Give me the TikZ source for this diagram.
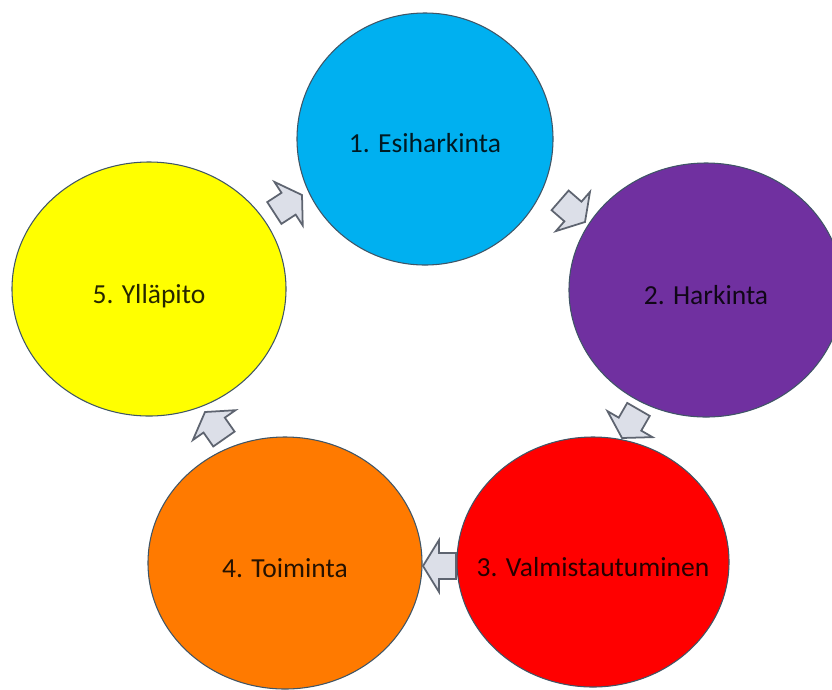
\documentclass[tikz,border=0pt]{standalone}
\usepackage{fontspec}
\setmainfont{Carlito}
\usetikzlibrary{shapes.geometric}
\definecolor{cblue}{HTML}{00B0F0}
\definecolor{cpurple}{HTML}{7030A0}
\definecolor{cred}{HTML}{FF0000}
\definecolor{corange}{HTML}{FF7A00}
\definecolor{cyellow}{HTML}{FFFF00}
\definecolor{rim}{HTML}{3F5566}
\definecolor{arrfill}{HTML}{DCDFE8}
\definecolor{arrline}{HTML}{5E6470}
\tikzset{
  bubble/.style={ellipse, draw=rim, line width=0.9pt, inner sep=0pt},
  lbl/.style={anchor=base, text=black, text opacity=0.85, font=\fontsize{23.5}{28}\selectfont},
  arrowbox/.style={fill=arrfill, draw=arrline, line width=1.5pt, line join=miter}
}
\newcommand{\blockarr}{(0,0) -- (-16,26) -- (-16,13) -- (-33,13) -- (-33,-13) -- (-16,-13) -- (-16,-26) -- cycle}
\begin{document}
\begin{tikzpicture}[x=0.03cm, y=-0.03cm]
\clip (0,0) rectangle (832,689);
\fill[white] (0,0) rectangle (832,689);
% circles
\node[bubble, fill=cblue, minimum width=7.68cm, minimum height=7.56cm] (c1) at (425,139) {};
\node[bubble, fill=cpurple, minimum width=8.22cm, minimum height=7.62cm] (c2) at (706,290) {};
\node[bubble, fill=cred, minimum width=8.16cm, minimum height=7.5cm] (c3) at (593,562) {};
\node[bubble, fill=corange, minimum width=8.22cm, minimum height=7.56cm] (c4) at (285,563) {};
\node[bubble, fill=cyellow, minimum width=8.22cm, minimum height=7.62cm] (c5) at (149,289) {};
% labels
\node[lbl] (l1) at ([yshift=-13*0.03cm]c1.center) {1. Esiharkinta};
\node[lbl] (l2) at ([yshift=-14*0.03cm]c2.center) {2. Harkinta};
\node[lbl] (l3) at ([yshift=-14*0.03cm]c3.center) {3. Valmistautuminen};
\node[lbl] (l4) at ([yshift=-14*0.03cm]c4.center) {4. Toiminta};
\node[lbl] (l5) at ([yshift=-14*0.03cm]c5.center) {5. Ylläpito};
% block arrows (tips)
\coordinate (t51) at (302,195);
\coordinate (t12) at (585,222);
\coordinate (t23) at (622,438);
\coordinate (t34) at (423,566);
\coordinate (t45) at (205,412);
\draw[arrowbox, shift={(t51)}, rotate=33] \blockarr;
\draw[arrowbox, shift={(t12)}, rotate=-41] \blockarr;
\draw[arrowbox, shift={(t23)}, rotate=-120] \blockarr;
\draw[arrowbox, shift={(t34)}, rotate=180] \blockarr;
\draw[arrowbox, shift={(t45)}, rotate=125] \blockarr;
\end{tikzpicture}
\end{document}
